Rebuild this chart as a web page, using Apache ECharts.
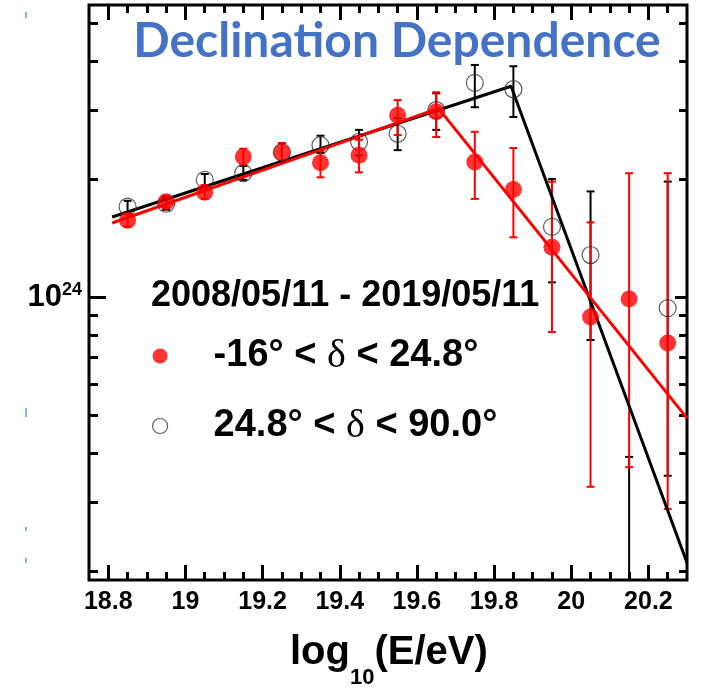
<!DOCTYPE html>
<html>
<head>
<meta charset="utf-8">
<script src="https://cdn.jsdelivr.net/npm/echarts@6/dist/echarts.min.js"></script>
<style>
html,body{margin:0;padding:0;background:#fff;}
#chart{width:701px;height:689px;}
</style>
</head>
<body>
<div id="chart"></div>
<script>
// ---- data ----
const energyBins = [18.85, 18.95, 19.05, 19.15, 19.25, 19.35, 19.45, 19.55, 19.65, 19.75, 19.85, 19.95, 20.05, 20.15, 20.25];

// -16 < dec < 24.8 (filled red)
const redFlux = [1.57e24, 1.75e24, 1.85e24, 2.28e24, 2.34e24, 2.20e24, 2.30e24, 2.91e24, 2.97e24, 2.21e24, 1.88e24, 1.34e24, 0.889e24, 0.988e24, 0.763e24];
const redLow  = [1.51e24, 1.69e24, 1.78e24, 2.17e24, 2.21e24, 2.02e24, 2.08e24, 2.59e24, 2.56e24, 1.78e24, 1.42e24, 0.814e24, 0.328e24, 0.368e24, 0.288e24];
const redHigh = [1.64e24, 1.81e24, 1.93e24, 2.39e24, 2.47e24, 2.36e24, 2.52e24, 3.18e24, 3.33e24, 2.64e24, 2.40e24, 1.97e24, 1.55e24, 2.07e24, 2.07e24];

// 24.8 < dec < 90 (open black)
const blackFlux = [1.70e24, 1.73e24, 1.99e24, 2.07e24, 2.34e24, 2.44e24, 2.49e24, 2.61e24, 3.00e24, 3.52e24, 3.39e24, 1.51e24, 1.28e24, null, 0.937e24];
const blackLow  = [1.64e24, 1.67e24, 1.92e24, 1.99e24, 2.22e24, 2.33e24, 2.30e24, 2.37e24, 2.67e24, 3.05e24, 2.88e24, 1.09e24, 0.777e24, 0.05e24, 0.350e24];
const blackHigh = [1.76e24, 1.79e24, 2.06e24, 2.16e24, 2.47e24, 2.58e24, 2.67e24, 2.86e24, 3.31e24, 3.91e24, 3.88e24, 2.00e24, 1.86e24, 0.391e24, 1.97e24];

// broken power-law fits
const redFitX = [18.81, 19.656, 20.3];
const redFitY = [1.545e24, 3.03e24, 0.491e24];
const blackFitX = [18.81, 19.844, 20.3];
const blackFitY = [1.60e24, 3.45e24, 0.210e24];

// axis ticks / labels
const xLabelValues = [18.8, 19.0, 19.2, 19.4, 19.6, 19.8, 20.0, 20.2];
const xMinorTicks = [18.85, 18.9, 18.95, 19.05, 19.1, 19.15, 19.25, 19.3, 19.35, 19.45, 19.5, 19.55, 19.65, 19.7, 19.75, 19.85, 19.9, 19.95, 20.05, 20.1, 20.15, 20.25];
const yMajorTicks = [1e24];
const yMinorTicks = [2e23, 3e23, 4e23, 5e23, 6e23, 7e23, 8e23, 9e23, 2e24, 3e24, 4e24, 5e24];

const xMin = 18.75, xMax = 20.3;
const yMin = 1.897e23, yMax = 5.56e24;

const legendHeader = '2008/05/11 - 2019/05/11';
const legendRed = '-16° < δ < 24.8°';
const legendBlack = '24.8° < δ < 90.0°';

// ---- build ----
const chart = echarts.init(document.getElementById('chart'), null, {renderer: 'canvas'});
const FONT = 'Liberation Sans, Arial, Helvetica, sans-serif';

function pairs(xs, ys) { return xs.map((x, i) => [x, ys[i]]); }
function errData(xs, lo, hi) { return xs.map((x, i) => [x, lo[i], hi[i]]); }

function errRender(color) {
  return function (params, api) {
    const x = api.value(0);
    const pLo = api.coord([x, api.value(1)]);
    const pHi = api.coord([x, api.value(2)]);
    const w = 4;
    const st = {stroke: color, lineWidth: 2};
    return {
      type: 'group',
      children: [
        {type: 'line', shape: {x1: pHi[0], y1: pHi[1], x2: pLo[0], y2: pLo[1]}, style: st},
        {type: 'line', shape: {x1: pHi[0] - w, y1: pHi[1], x2: pHi[0] + w, y2: pHi[1]}, style: st},
        {type: 'line', shape: {x1: pLo[0] - w, y1: pLo[1], x2: pLo[0] + w, y2: pLo[1]}, style: st}
      ]
    };
  };
}

const tickStyle = {color: '#000', width: 3};

function xAx(pos, ticks, len, labels) {
  return {
    type: 'value', position: pos, min: xMin, max: xMax, gridIndex: 0,
    axisLine: {show: false}, splitLine: {show: false},
    axisTick: {show: true, inside: true, length: len, lineStyle: tickStyle, customValues: ticks},
    axisLabel: labels ? {show: true, customValues: xLabelValues, margin: 10, color: '#000',
      fontSize: 25, fontWeight: 'bold', fontFamily: FONT,
      formatter: v => (Math.round(v * 10) / 10).toString()} : {show: false}
  };
}
function yAx(pos, ticks, len, labels) {
  return {
    type: 'log', logBase: 10, position: pos, min: yMin, max: yMax, gridIndex: 0,
    axisLine: {show: false}, splitLine: {show: false}, minorTick: {show: false},
    axisTick: {show: true, inside: true, length: len, lineStyle: tickStyle, customValues: ticks},
    axisLabel: labels ? {show: true, customValues: yMajorTicks, margin: 7, color: '#000',
      fontSize: 31, fontWeight: 'bold', fontFamily: FONT,
      formatter: () => '{b|10}{s|24}',
      rich: {b: {fontSize: 31, fontWeight: 'bold', fontFamily: FONT, color: '#000', lineHeight: 32, verticalAlign: 'bottom'},
             s: {fontSize: 18, fontWeight: 'bold', fontFamily: FONT, color: '#000', lineHeight: 18, verticalAlign: 'top'}}} : {show: false}
  };
}

const option = {
  backgroundColor: '#fff',
  animation: false,
  title: {
    text: 'Declination Dependence',
    left: 392, top: 13, textAlign: 'center',
    textStyle: {fontSize: 48, fontWeight: 'bold', color: '#4472C4', fontFamily: 'Lato, Open Sans, sans-serif'}
  },
  grid: {left: 89, right: 14, top: 5, bottom: 109, show: true, borderColor: '#000', borderWidth: 3, backgroundColor: 'transparent'},
  xAxis: [
    xAx('bottom', xLabelValues, 15, true),
    xAx('bottom', xMinorTicks, 8, false),
    xAx('top', xLabelValues, 15, false),
    xAx('top', xMinorTicks, 8, false)
  ],
  yAxis: [
    yAx('left', yMajorTicks, 17, true),
    yAx('left', yMinorTicks, 9, false),
    yAx('right', yMajorTicks, 12, false),
    yAx('right', yMinorTicks, 8, false)
  ],
  legend: {
    orient: 'vertical', left: 152, top: 336, itemGap: 30, padding: 0,
    itemWidth: 15, itemHeight: 15,
    data: [
      {name: legendRed, icon: 'circle', itemStyle: {color: '#ff0000', borderWidth: 0}},
      {name: legendBlack, icon: 'circle', itemStyle: {color: 'transparent', borderColor: '#333', borderWidth: 1.2}}
    ],
    formatter: function (name) {
      const parts = name.split('δ');
      return '{sp|}{t|' + parts[0] + '}{d|δ}{t|' + parts[1] + '}';
    },
    textStyle: {
      rich: {
        sp: {width: 41},
        t: {fontSize: 38, fontWeight: 'bold', fontFamily: FONT, color: '#000', lineHeight: 40},
        d: {fontSize: 40, fontWeight: 'normal', fontFamily: 'Liberation Serif, Times New Roman, serif', color: '#000', lineHeight: 40}
      }
    }
  },
  graphic: [
    {type: 'text', left: 151, top: 278, style: {text: legendHeader, font: 'bold 36px ' + FONT, fill: '#000'}},
    {type: 'text', left: 290, top: 633,
     style: {text: '{h|}{a|log}{s|10}{a|(E/eV)}', rich: {
       h: {height: 56, width: 0, lineHeight: 56},
       a: {fontSize: 40, fontWeight: 'bold', fontFamily: FONT, fill: '#000', lineHeight: 40, verticalAlign: 'top'},
       s: {fontSize: 22, fontWeight: 'bold', fontFamily: FONT, fill: '#000', lineHeight: 22, verticalAlign: 'bottom'}}}},
    {type: 'line', shape: {x1: 26, y1: 12, x2: 26, y2: 18}, style: {stroke: '#5B9BD5', lineWidth: 1.5}},
    {type: 'line', shape: {x1: 26, y1: 408, x2: 26, y2: 417}, style: {stroke: '#5B9BD5', lineWidth: 1.5}},
    {type: 'line', shape: {x1: 26, y1: 527, x2: 26, y2: 531}, style: {stroke: '#5B9BD5', lineWidth: 1.5}},
    {type: 'line', shape: {x1: 26, y1: 558, x2: 26, y2: 563}, style: {stroke: '#5B9BD5', lineWidth: 1.5}}
  ],
  series: [
    {type: 'custom', name: 'blackErr', xAxisIndex: 0, yAxisIndex: 0, clip: true, z: 2,
     renderItem: errRender('#000'), encode: {x: 0, y: [1, 2]}, data: errData(energyBins, blackLow, blackHigh)},
    {type: 'custom', name: 'redErr', xAxisIndex: 0, yAxisIndex: 0, clip: true, z: 3,
     renderItem: errRender('#ff0000'), encode: {x: 0, y: [1, 2]}, data: errData(energyBins, redLow, redHigh)},
    {type: 'line', name: 'blackFit', xAxisIndex: 0, yAxisIndex: 0, showSymbol: false, symbol: 'none', z: 4,
     lineStyle: {color: '#000', width: 3}, data: pairs(blackFitX, blackFitY)},
    {type: 'line', name: 'redFit', xAxisIndex: 0, yAxisIndex: 0, showSymbol: false, symbol: 'none', z: 4,
     lineStyle: {color: '#ff0000', width: 3}, data: pairs(redFitX, redFitY)},
    {type: 'scatter', name: legendBlack, xAxisIndex: 0, yAxisIndex: 0, symbol: 'circle', symbolSize: 17, z: 5,
     itemStyle: {color: 'transparent', borderColor: '#333', borderWidth: 1.2},
     data: pairs(energyBins, blackFlux).filter(d => d[1] != null)},
    {type: 'scatter', name: legendRed, xAxisIndex: 0, yAxisIndex: 0, symbol: 'circle', symbolSize: 17, z: 6,
     itemStyle: {color: '#ff0000'}, data: pairs(energyBins, redFlux)}
  ]
};
chart.setOption(option);
</script>
</body>
</html>
